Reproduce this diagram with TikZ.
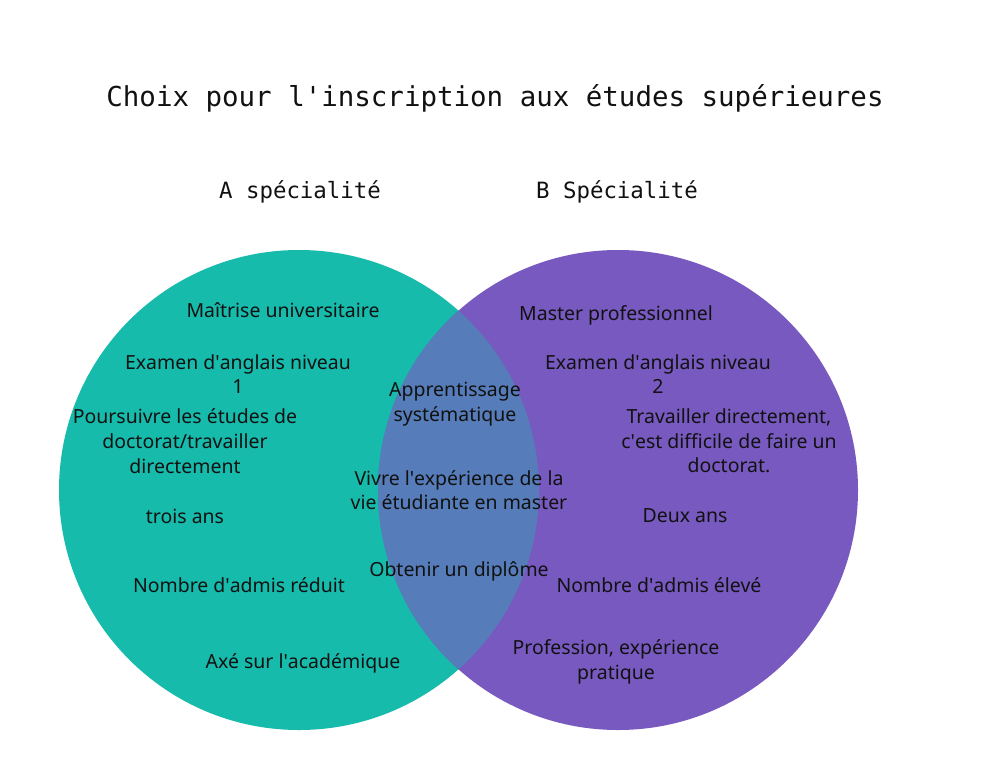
\documentclass[tikz,border=0pt]{standalone}
\usepackage{fontspec}
\usepackage{xcolor}
\setmainfont{Noto Sans}
\newfontfamily\monofont{DejaVu Sans Mono}
\usetikzlibrary{positioning}
\definecolor{ink}{HTML}{111111}
\definecolor{teal}{HTML}{17BBAC}
\definecolor{violet}{HTML}{7759BF}
\definecolor{blend}{HTML}{567CB9}
\newcommand{\ap}{\textquotesingle}
\tikzset{
  setdisc/.style={circle,fill=#1,draw=none,minimum size=360pt,inner sep=0pt},
  itemtxt/.style={align=center,font=\fontsize{14.6}{18.5}\selectfont,text=ink,inner sep=0pt},
  heading/.style={font=\monofont\fontsize{#1}{#1}\selectfont,text=ink,inner sep=0pt}
}

\begin{document}
\begin{tikzpicture}[x=0.75pt,y=-0.75pt]
  \useasboundingbox[fill=white] (0,0) rectangle (993,768);

  % the two sets
  \node[setdisc=teal] (setA) at (299,490) {};
  \node[setdisc=violet] (setB) at (618,490) {};
  \begin{scope}
    \clip (setA.center) circle (240);
    \fill[blend] (setB.center) circle (240);
  \end{scope}

  % titles
  \node[heading=20.6] (title) at (495,98) {Choix pour l\ap inscription aux études supérieures};
  \node[heading=16.8] (headA) at (300,192) {A spécialité};
  \node[heading=16.8] (headB) at (617,192) {B Spécialité};

  % A only
  \node[itemtxt] (a1) at (283,310) {Maîtrise universitaire};
  \node[itemtxt] (a2) at (238,374) {Examen d\ap anglais niveau\\1};
  \node[itemtxt] (a3) at (185,441) {Poursuivre les études de\\doctorat/travailler\\directement};
  \node[itemtxt] (a4) at (185,516) {trois ans};
  \node[itemtxt] (a5) at (239,585) {Nombre d\ap admis réduit};
  \node[itemtxt] (a6) at (303,663) {Axé sur l\ap académique};

  % both
  \node[itemtxt] (ab1) at (455,404) {Apprentissage\\systématique};
  \node[itemtxt] (ab2) at (459,490) {Vivre l\ap expérience de la\\vie étudiante en master};
  \node[itemtxt] (ab3) at (459,571) {Obtenir un diplôme};

  % B only
  \node[itemtxt] (b1) at (616,315) {Master professionnel};
  \node[itemtxt] (b2) at (658,374) {Examen d\ap anglais niveau\\2};
  \node[itemtxt] (b3) at (729,441) {Travailler directement,\\c\ap est difficile de faire un\\doctorat.};
  \node[itemtxt] (b4) at (685,516) {Deux ans};
  \node[itemtxt] (b5) at (659,585) {Nombre d\ap admis élevé};
  \node[itemtxt] (b6) at (616,662) {Profession, expérience\\pratique};
\end{tikzpicture}
\end{document}
